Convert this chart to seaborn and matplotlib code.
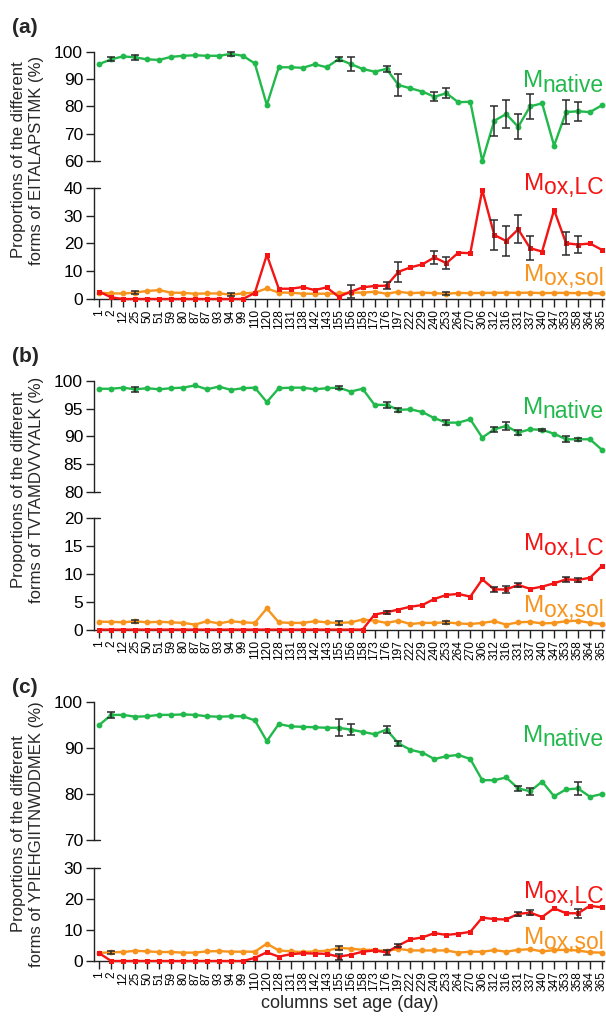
import numpy as np
import pandas as pd
import matplotlib
matplotlib.use("Agg")
import matplotlib.pyplot as plt
import seaborn as sns

# ---- data -------------------------------------------------------------
days = ['1', '2', '12', '25', '50', '51', '59', '80', '87', '87', '93', '94',
        '99', '110', '120', '128', '131', '138', '142', '143', '155', '156',
        '158', '173', '176', '197', '222', '229', '240', '253', '264', '270',
        '306', '312', '316', '331', '337', '340', '347', '353', '358', '364',
        '365']

# (a) EITALAPSTMK
a_native = [95.5, 97.2, 98.3, 97.9, 97.2, 97.0, 98.1, 98.5, 98.7, 98.5, 98.5,
            99.2, 98.5, 95.7, 80.5, 94.3, 94.3, 94.1, 95.4, 94.3, 97.3, 95.5,
            93.7, 92.7, 93.7, 87.8, 86.6, 85.4, 83.5, 84.8, 81.5, 81.7, 60.0,
            74.7, 77.2, 72.5, 80.0, 81.1, 65.6, 77.9, 78.2, 77.9, 80.4]
a_native_err = [0, 0.7, 0, 0.8, 0, 0, 0, 0, 0, 0, 0, 0.6, 0, 0, 0, 0, 0, 0, 0,
                0, 0.8, 2.6, 0, 0, 1.2, 3.9, 0, 0, 1.6, 1.9, 0, 0, 0, 5.4, 5.2,
                4.6, 4.6, 0, 0, 4.3, 3.4, 0, 0]
a_lc = [2.6, 0.6, 0, 0, 0, 0, 0, 0, 0, 0, 0, 0, 0, 2.2, 15.9, 3.7, 3.7, 4.3,
        3.2, 4.2, 0.8, 2.6, 4.2, 4.7, 4.8, 9.8, 11.4, 12.5, 15.0, 12.9, 16.7,
        16.5, 39.3, 23.1, 20.9, 25.1, 18.3, 17.1, 32.1, 20.1, 19.6, 20.0, 17.7]
a_lc_err = [0, 0, 0, 0, 0, 0, 0, 0, 0, 0, 0, 0, 0, 0, 0, 0, 0, 0, 0, 0, 0, 2.4,
            0, 0, 1.3, 3.7, 0, 0, 2.4, 2.1, 0, 0, 0, 5.3, 5.4, 5.1, 4.3, 0, 0,
            4.2, 3.2, 0, 0]
a_sol = [2.3, 2.0, 2.0, 2.3, 2.9, 3.2, 2.3, 2.2, 1.9, 2.0, 2.0, 1.6, 2.0, 2.3,
         3.8, 2.3, 2.3, 1.9, 1.9, 1.9, 2.0, 2.3, 2.3, 2.6, 1.9, 2.6, 2.1, 2.3,
         2.1, 1.9, 2.2, 2.1, 2.2, 2.2, 2.3, 2.2, 2.3, 2.1, 2.2, 2.2, 2.1, 2.1,
         2.0]
a_sol_err = [0, 0, 0, 0.5, 0, 0, 0, 0, 0, 0, 0, 0.4, 0, 0, 0, 0, 0, 0, 0, 0, 0,
             0, 0, 0, 0, 0, 0, 0, 0, 0.5, 0, 0, 0, 0, 0, 0, 0, 0, 0, 0, 0, 0, 0]

# (b) TVTAMDVVYALK
b_native = [98.6, 98.6, 98.8, 98.5, 98.7, 98.5, 98.7, 98.8, 99.2, 98.5, 99.0,
            98.4, 98.7, 98.8, 96.2, 98.7, 98.8, 98.8, 98.5, 98.7, 98.8, 98.1,
            98.6, 95.7, 95.7, 94.8, 94.9, 94.4, 93.3, 92.5, 92.5, 93.1, 89.8,
            91.3, 91.9, 90.7, 91.3, 91.2, 90.5, 89.5, 89.5, 89.5, 87.6]
b_native_err = [0, 0, 0, 0.4, 0, 0, 0, 0, 0, 0, 0, 0, 0, 0, 0, 0, 0, 0, 0, 0,
                0.3, 0, 0, 0, 0.5, 0.4, 0, 0, 0, 0.5, 0, 0, 0, 0.5, 0.7, 0.5, 0,
                0.2, 0, 0.5, 0.3, 0, 0]
b_lc = [0, 0, 0, 0, 0, 0, 0, 0, 0, 0, 0, 0, 0, 0, 0, 0, 0, 0, 0, 0, 0, 0, 0,
        2.7, 3.1, 3.6, 4.1, 4.4, 5.5, 6.2, 6.4, 5.9, 9.0, 7.2, 7.2, 8.0, 7.3,
        7.7, 8.3, 9.0, 8.9, 9.3, 11.4]
b_lc_err = [0, 0, 0, 0, 0, 0, 0, 0, 0, 0, 0, 0, 0, 0, 0, 0, 0, 0, 0, 0, 0, 0,
            0, 0, 0.3, 0, 0, 0, 0, 0, 0, 0, 0, 0.5, 0.6, 0.3, 0, 0, 0, 0.5, 0.3,
            0, 0]
b_sol = [1.4, 1.4, 1.3, 1.5, 1.3, 1.4, 1.3, 1.2, 0.9, 1.5, 1.1, 1.5, 1.3, 1.2,
         3.8, 1.3, 1.2, 1.2, 1.5, 1.3, 1.2, 1.3, 1.8, 1.6, 1.2, 1.6, 1.0, 1.2,
         1.2, 1.3, 1.1, 1.0, 1.2, 1.5, 0.9, 1.3, 1.4, 1.1, 1.2, 1.5, 1.6, 1.2,
         1.0]
b_sol_err = [0, 0, 0, 0.3, 0, 0, 0, 0, 0, 0, 0, 0, 0, 0, 0, 0, 0, 0, 0, 0, 0.3,
             0, 0, 0, 0, 0, 0, 0, 0, 0.3, 0, 0, 0, 0, 0, 0, 0, 0, 0, 0, 0, 0, 0]

# (c) YPIEHGIITNWDDMEK
c_native = [95.0, 97.2, 97.2, 96.8, 96.9, 97.2, 97.2, 97.3, 97.2, 96.9, 96.8,
            96.9, 96.9, 96.0, 91.5, 95.2, 94.7, 94.6, 94.5, 94.4, 94.4, 94.0,
            93.5, 93.0, 94.0, 91.0, 89.6, 89.0, 87.6, 88.2, 88.5, 87.6, 83.0,
            83.0, 83.6, 81.2, 80.6, 82.7, 79.5, 81.0, 81.2, 79.4, 80.0]
c_native_err = [0, 0.6, 0, 0, 0, 0, 0, 0, 0, 0, 0, 0, 0, 0, 0, 0, 0, 0, 0, 0,
                1.8, 1.2, 0, 0, 0.8, 0.6, 0, 0, 0, 0, 0, 0, 0, 0, 0, 0.6, 0.8, 0,
                0, 0, 1.5, 0, 0]
c_lc = [2.5, 0, 0, 0, 0, 0, 0, 0, 0, 0, 0, 0, 0, 1.0, 2.8, 1.4, 2.2, 2.5, 2.4,
        2.3, 1.4, 2.0, 3.0, 3.4, 2.8, 5.0, 7.0, 7.6, 9.0, 8.4, 8.8, 9.4, 14.0,
        13.5, 13.4, 15.2, 15.6, 14.2, 17.0, 15.4, 15.4, 17.8, 17.3]
c_lc_err = [0, 0, 0, 0, 0, 0, 0, 0, 0, 0, 0, 0, 0, 0, 0, 0, 0, 0, 0, 0, 1.0, 0,
            0, 0, 0.8, 0.6, 0, 0, 0, 0, 0, 0, 0, 0, 0, 0.6, 0.8, 0, 0, 0, 1.4,
            0, 0]
c_sol = [2.6, 2.8, 2.9, 3.3, 3.1, 2.9, 2.9, 2.7, 2.7, 3.1, 3.2, 3.0, 3.0, 3.0,
         5.6, 3.4, 3.1, 2.9, 3.1, 3.3, 4.2, 4.0, 3.6, 3.6, 3.2, 3.9, 3.4, 3.4,
         3.4, 3.4, 2.7, 3.0, 3.0, 3.5, 3.0, 3.6, 3.8, 3.1, 3.5, 3.6, 3.4, 2.8,
         2.7]
c_sol_err = [0, 0.5, 0, 0, 0, 0, 0, 0, 0, 0, 0, 0, 0, 0, 0, 0, 0, 0, 0, 0, 0.6,
             0, 0, 0, 0, 0, 0, 0, 0, 0, 0, 0, 0, 0, 0, 0, 0, 0, 0, 0, 0, 0, 0]

peptides = ['EITALAPSTMK', 'TVTAMDVVYALK', 'YPIEHGIITNWDDMEK']
panel_letters = ['(a)', '(b)', '(c)']

# ---- style ------------------------------------------------------------
sns.set_theme(style="ticks")
plt.rcParams['font.family'] = ['Liberation Sans', 'DejaVu Sans']
plt.rcParams['axes.linewidth'] = 1.0
plt.rcParams['axes.edgecolor'] = '#222222'

GREEN = '#22b94c'
RED = '#f41414'
ORANGE = '#f7941d'
ERR = '#2a2a2a'

W, H = 606, 1016
fig = plt.figure(figsize=(W / 100, H / 100), dpi=100)

LEFT, RIGHT = 93.5, 604.0


def add_axes(top, bottom):
    return fig.add_axes([LEFT / W, 1 - bottom / H,
                         (RIGHT - LEFT) / W, (bottom - top) / H])


positions = np.arange(len(days))


def draw_series(ax, values, errors, color, marker, z, msize):
    df = pd.DataFrame({'pos': positions, 'val': values, 'err': errors})
    sns.lineplot(data=df, x='pos', y='val', ax=ax, color=color, marker=marker,
                 markersize=msize, markeredgewidth=0, linewidth=1.7,
                 zorder=z, clip_on=False, legend=False)
    sub = df[df['err'] > 0]
    ax.errorbar(sub['pos'], sub['val'], yerr=sub['err'], fmt='none',
                ecolor=ERR, elinewidth=1.1, capsize=3.2, capthick=1.1,
                zorder=z + 1, clip_on=False)


def style_axis(ax, lims, ticks, upper):
    ax.set_xlim(-0.48, len(days) - 1 + 0.17)
    ax.set_ylim(*lims)
    ax.set_yticks(ticks)
    ax.set_yticklabels([str(t) for t in ticks])
    ax.tick_params(axis='y', labelsize=12.5, length=6, width=1.0,
                   direction='out', pad=1.5, colors='#222222',
                   labelcolor='black')
    sns.despine(ax=ax, top=True, right=True, bottom=upper)
    ax.set_xlabel('')
    ax.set_ylabel('')
    # short cap on the break side of the axis
    y_cap = 0 if upper else 1
    ax.plot([0, 6 / (RIGHT - LEFT)], [y_cap, y_cap], transform=ax.transAxes,
            color='#222222', lw=1.0, clip_on=False)
    if upper:
        ax.set_xticks([])
    else:
        ax.set_xticks(positions)
        ax.set_xticklabels(days, rotation=90)
        ax.tick_params(axis='x', labelsize=8.6, length=6, width=1.0,
                       direction='out', pad=1.5, colors='#222222',
                       labelcolor='black')


panels = [
    dict(native=(a_native, a_native_err), lc=(a_lc, a_lc_err),
         sol=(a_sol, a_sol_err),
         up=(51.7, 161.0, (60, 100), [60, 70, 80, 90, 100]),
         low=(188.0, 299.0, (0, 40), [0, 10, 20, 30, 40]),
         letter_y=33, label_y=160,
         lab_native=91.5, lab_lc=194.0, lab_sol=285.0),
    dict(native=(b_native, b_native_err), lc=(b_lc, b_lc_err),
         sol=(b_sol, b_sol_err),
         up=(381.0, 492.0, (80, 100), [80, 85, 90, 95, 100]),
         low=(518.0, 629.6, (0, 20), [0, 5, 10, 15, 20]),
         letter_y=362, label_y=490,
         lab_native=418.5, lab_lc=555.0, lab_sol=617.0),
    dict(native=(c_native, c_native_err), lc=(c_lc, c_lc_err),
         sol=(c_sol, c_sol_err),
         up=(702.0, 840.0, (70, 100), [70, 80, 90, 100]),
         low=(868.0, 961.0, (0, 30), [0, 10, 20, 30]),
         letter_y=693, label_y=834,
         lab_native=746.0, lab_lc=903.0, lab_sol=949.0),
]


def species_label(y_px, sub, color):
    """Label made of a large 'M' followed by a lowered subscript."""
    t_sub = fig.text(RIGHT / W, 1 - y_px / H, sub, color=color, fontsize=16.5,
                     ha='right', va='baseline')
    fig.canvas.draw()
    bb = t_sub.get_window_extent()
    fig.text(bb.x0 / (W), 1 - (y_px - 4.5) / H, 'M', color=color,
             fontsize=17.5, ha='right', va='baseline')


for i, p in enumerate(panels):
    ax_up = add_axes(p['up'][0], p['up'][1])
    ax_lo = add_axes(p['low'][0], p['low'][1])

    draw_series(ax_up, *p['native'], GREEN, 'o', 3, 4.2)
    draw_series(ax_lo, *p['sol'], ORANGE, 'o', 3, 4.2)
    draw_series(ax_lo, *p['lc'], RED, 's', 5, 3.6)

    style_axis(ax_up, p['up'][2], p['up'][3], True)
    style_axis(ax_lo, p['low'][2], p['low'][3], False)

    fig.text(12 / W, 1 - p['letter_y'] / H, panel_letters[i], fontsize=15,
             fontweight='bold', ha='left', va='baseline')
    fig.text(19 / W, 1 - p['label_y'] / H, 'Proportions of the different',
             fontsize=12.0, rotation=90, ha='center', va='center')
    fig.text(37 / W, 1 - p['label_y'] / H,
             'forms of ' + peptides[i] + ' (%)',
             fontsize=12.0, rotation=90, ha='center', va='center')

    species_label(p['lab_native'], 'native', GREEN)
    species_label(p['lab_lc'], 'ox,LC', RED)
    species_label(p['lab_sol'], 'ox,sol', ORANGE)

fig.text(350 / W, 1 - 1003 / H, 'columns set age (day)', fontsize=13,
         ha='center', va='center')

fig.savefig('out.png', dpi=100)
